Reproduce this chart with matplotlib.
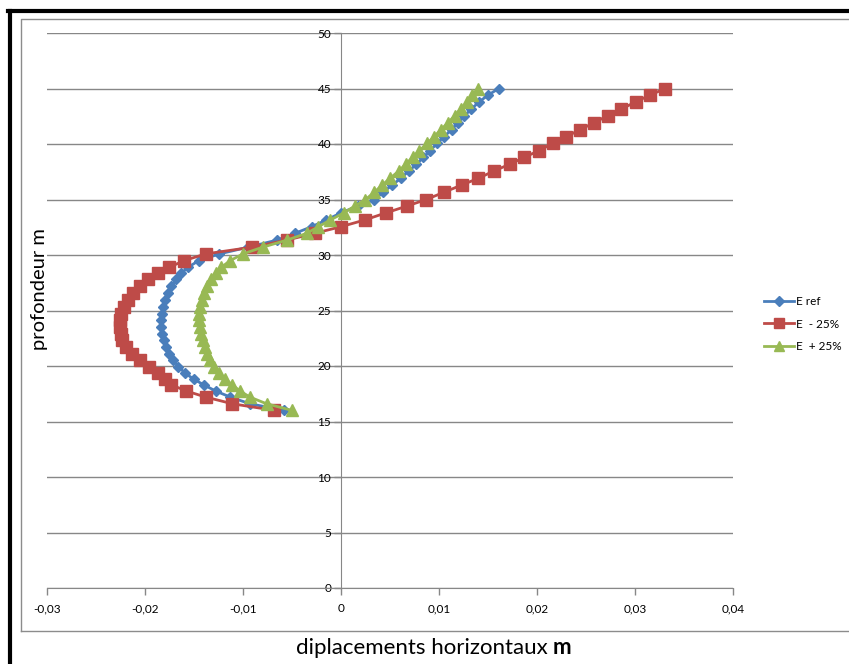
import matplotlib
matplotlib.use("Agg")
import matplotlib.pyplot as plt
from matplotlib.lines import Line2D
from matplotlib.ticker import FixedLocator

plt.rcParams['font.family'] = ['Lato', 'DejaVu Sans']

# depth of the nodes (m), bottom to top
profondeur = [16.0, 16.6, 17.2, 17.75, 18.3, 18.8, 19.35, 19.95, 20.55, 21.1,
              21.7, 22.3, 22.9, 23.5, 24.1, 24.7, 25.3, 25.95, 26.6, 27.2,
              27.8, 28.35, 28.9, 29.5, 30.1, 30.7, 31.35, 31.95, 32.55, 33.15,
              33.8, 34.4, 35.0, 35.65, 36.3, 36.9, 37.57, 38.17, 38.8, 39.4,
              40.06, 40.66, 41.3, 41.9, 42.55, 43.15, 43.8, 44.4, 45.0]

# horizontal displacements (m)
e_ref = [-0.0058, -0.0093, -0.0113, -0.0128, -0.0140, -0.0150, -0.0159, -0.0166, -0.0171, -0.0176,
         -0.0179, -0.0181, -0.0183, -0.0184, -0.0184, -0.0183, -0.0182, -0.0180, -0.0177, -0.0173,
         -0.0168, -0.0163, -0.0156, -0.0145, -0.0124, -0.0095, -0.0065, -0.0047, -0.0030, -0.0015,
         0.0000, 0.0017, 0.0034, 0.0043, 0.0052, 0.0061, 0.0069, 0.0077, 0.0084, 0.0091,
         0.0098, 0.0105, 0.0113, 0.0119, 0.0126, 0.0133, 0.0141, 0.0150, 0.0161]

e_moins_25 = [-0.0068, -0.0111, -0.0138, -0.0158, -0.0173, -0.0180, -0.0187, -0.0196, -0.0205, -0.0213,
              -0.0219, -0.0223, -0.0225, -0.0226, -0.0226, -0.0224, -0.0221, -0.0217, -0.0212, -0.0205,
              -0.0197, -0.0187, -0.0175, -0.0160, -0.0138, -0.0091, -0.0055, -0.0027, 0.0000, 0.0024,
              0.0046, 0.0067, 0.0087, 0.0105, 0.0123, 0.0140, 0.0156, 0.0172, 0.0187, 0.0202,
              0.0216, 0.0230, 0.0244, 0.0258, 0.0272, 0.0286, 0.0301, 0.0315, 0.0331]

e_plus_25 = [-0.0050, -0.0076, -0.0093, -0.0103, -0.0111, -0.0118, -0.0124, -0.0130, -0.0134, -0.0137,
             -0.0139, -0.0141, -0.0143, -0.0144, -0.0145, -0.0145, -0.0144, -0.0142, -0.0140, -0.0137,
             -0.0133, -0.0128, -0.0122, -0.0113, -0.0100, -0.0080, -0.0055, -0.0035, -0.0023, -0.0011,
             0.0003, 0.0014, 0.0025, 0.0034, 0.0042, 0.0050, 0.0059, 0.0066, 0.0073, 0.0080,
             0.0088, 0.0095, 0.0102, 0.0109, 0.0116, 0.0122, 0.0129, 0.0134, 0.0140]

series_labels = ["E ref", "E  - 25%", "E  + 25%"]
x_ticks = [-0.03, -0.02, -0.01, 0.0, 0.01, 0.02, 0.03, 0.04]
x_tick_labels = ["-0,03", "-0,02", "-0,01", "0", "0,01", "0,02", "0,03", "0,04"]
y_ticks = [0, 5, 10, 15, 20, 25, 30, 35, 40, 45, 50]

W, H = 849, 664
fig = plt.figure(figsize=(W / 100, H / 100), dpi=100)
fig.patch.set_facecolor("white")

# plot area in pixel coordinates
left, right, top, bottom = 47, 733, 33, 588
ax = fig.add_axes([left / W, 1 - bottom / H, (right - left) / W, (bottom - top) / H])

grid_col = "#878787"
ax.set_xlim(-0.03, 0.04)
ax.set_ylim(0, 50)

styles = [
    dict(color="#4A7EBB", marker="D", markersize=5.5, mec="#4A7EBB", mfc="#4A7EBB"),
    dict(color="#BE4B48", marker="s", markersize=8, mec="#BE4B48", mfc="#BE4B48"),
    dict(color="#98B954", marker="^", markersize=8.5, mec="#98B954", mfc="#98B954"),
]
for vals, lab, st in zip([e_ref, e_moins_25, e_plus_25], series_labels, styles):
    ax.plot(vals, profondeur, lw=2.0, label=lab, zorder=3, **st)

# horizontal gridlines
ax.yaxis.set_major_locator(FixedLocator(y_ticks))
ax.grid(axis="y", color=grid_col, lw=1.0, zorder=0)
ax.grid(axis="x", visible=False)

# axes crossing at zero
for s in ["top", "right"]:
    ax.spines[s].set_visible(False)
ax.spines["left"].set_position(("data", 0))
ax.spines["left"].set_color(grid_col)
ax.spines["bottom"].set_color(grid_col)
ax.spines["left"].set_zorder(1)

ax.xaxis.set_major_locator(FixedLocator(x_ticks))
ax.set_xticklabels(x_tick_labels)
ax.set_yticklabels([str(v) for v in y_ticks])
ax.tick_params(axis="both", colors=grid_col, labelcolor="black", labelsize=8.5,
               direction="out", length=5, width=1)
ax.tick_params(axis="x", pad=6)
ax.tick_params(axis="y", pad=2)

ax.set_facecolor("none")

# axis titles
fig.text(553 / W, 1 - 648 / H, "diplacements horizontaux ", ha="right", va="center",
         fontsize=16, color="black")
fig.text(553 / W, 1 - 648 / H, "m", ha="left", va="center", fontsize=16,
         fontweight="bold", color="black")
fig.text(40 / W, 1 - 289 / H, "profondeur m", rotation=90, ha="center", va="center",
         fontsize=14.5, color="black")

# legend
leg = fig.legend(loc="center left", bbox_to_anchor=(753 / W, 1 - 324 / H), frameon=False,
                 fontsize=8.5, handlelength=2.6, handletextpad=0.15, labelspacing=1.0,
                 markerscale=0.9)

# chart frame
fig.add_artist(Line2D([9.5 / W, 9.5 / W], [0, 1 - 11 / H], transform=fig.transFigure,
                      color="black", lw=3))
fig.add_artist(Line2D([8 / W, 1], [1 - 11 / H, 1 - 11 / H], transform=fig.transFigure,
                      color="black", lw=3))
fig.add_artist(Line2D([21 / W, 21 / W, 1], [1 - 631 / H, 1 - 19 / H, 1 - 19 / H],
                      transform=fig.transFigure, color="#8C8C8C", lw=1))
fig.add_artist(Line2D([21 / W, 1], [1 - 631 / H, 1 - 631 / H],
                      transform=fig.transFigure, color="#8C8C8C", lw=1))

fig.savefig("out.png", dpi=100)
